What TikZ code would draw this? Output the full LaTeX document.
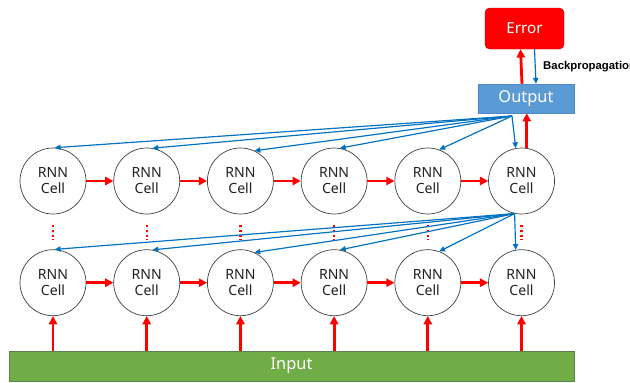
\documentclass[tikz,border=0pt]{standalone}
\usepackage{fontspec}
\setmainfont{Noto Sans}
\newfontfamily\bpfont{Liberation Sans}
\usetikzlibrary{arrows.meta, positioning}
\definecolor{fwred}{HTML}{FF0000}
\definecolor{errborder}{HTML}{C00000}
\definecolor{bwblue}{HTML}{0070C0}
\definecolor{outblue}{HTML}{5B9BD5}
\definecolor{outborder}{HTML}{4F88C6}
\definecolor{ingreen}{HTML}{70AD47}
\definecolor{inborder}{HTML}{5B7F4C}
\definecolor{cellgray}{HTML}{404040}
\definecolor{textgray}{HTML}{222222}

\begin{document}
\begin{tikzpicture}[x=0.03cm, y=-0.03cm, font=\fontsize{12}{13.6}\selectfont,
  node distance=1.05cm and 0.81cm,
  cell/.style={draw=cellgray, circle, line width=0.6pt, minimum size=1.98cm, inner sep=0pt, align=center, text=textgray},
  errbox/.style={draw=errborder, fill=fwred, rounded corners=4pt, text=white, minimum width=2.37cm, minimum height=1.23cm, font=\fontsize{13}{15}\selectfont},
  outbox/.style={draw=outborder, fill=outblue, text=white, minimum width=2.88cm, minimum height=0.87cm, font=\fontsize{14}{16}\selectfont},
  inbox/.style={draw=inborder, fill=ingreen, text=white, minimum width=16.95cm, minimum height=0.9cm, font=\fontsize{14}{16}\selectfont},
  fw/.style={draw=fwred, line width=2.4pt, -{Triangle[length=7pt,width=7pt]}},
  bw/.style={draw=bwblue, line width=1pt, -{Triangle[length=5pt,width=4.5pt]}},
  gap/.style={draw=fwred, line width=2pt, dash pattern=on 1.6pt off 2.4pt, shorten <=0.33cm, shorten >=0.27cm}]
\clip (0,0) rectangle (630,382);
\node[errbox] (err) at (524.5,28.5) {Error};
\node[outbox] (out) at (526,98.5) {Output};
\node[font=\bpfont\fontsize{9.7}{11.5}\selectfont\bfseries, anchor=west, inner sep=0pt] (bp) at (543,67) {Backpropagation};
\node[cell] (t1) at (53,181) {RNN\\Cell};
\node[cell, right=of t1] (t2) {RNN\\Cell};
\node[cell, right=of t2] (t3) {RNN\\Cell};
\node[cell, right=of t3] (t4) {RNN\\Cell};
\node[cell, right=of t4] (t5) {RNN\\Cell};
\node[cell, right=of t5] (t6) {RNN\\Cell};
\node[cell, below=of t1] (b1) {RNN\\Cell};
\node[cell, right=of b1] (b2) {RNN\\Cell};
\node[cell, right=of b2] (b3) {RNN\\Cell};
\node[cell, right=of b3] (b4) {RNN\\Cell};
\node[cell, right=of b4] (b5) {RNN\\Cell};
\node[cell, right=of b5] (b6) {RNN\\Cell};
\node[inbox] (in) at (291.5,366) {Input};
\coordinate (f1) at (512,116);
\draw[fw] ([xshift=-0.12cm]out.north) -- ([xshift=-0.12cm]err.south);
\draw[bw] ([xshift=0.3cm]err.south) -- ([xshift=0.3cm]out.north);
\draw[fw] (t6.81) -- (t6.81 |- out.south);
\draw[fw] (t1) -- (t2);
\draw[fw] (t2) -- (t3);
\draw[fw] (t3) -- (t4);
\draw[fw] (t4) -- (t5);
\draw[fw] (t5) -- (t6);
\draw[fw] (b1) -- (b2);
\draw[fw] (b2) -- (b3);
\draw[fw] (b3) -- (b4);
\draw[fw] (b4) -- (b5);
\draw[fw] (b5) -- (b6);
\draw[fw] (in.north -| b1) -- (b1);
\draw[fw] (in.north -| b2) -- (b2);
\draw[fw] (in.north -| b3) -- (b3);
\draw[fw] (in.north -| b4) -- (b4);
\draw[fw] (in.north -| b5) -- (b5);
\draw[fw] (in.north -| b6) -- (b6);
\draw[gap] (t1) -- (b1);
\draw[gap] (t2) -- (b2);
\draw[gap] (t3) -- (b3);
\draw[gap] (t4) -- (b4);
\draw[gap] (t5) -- (b5);
\draw[gap] (t6) -- (b6);
\draw[bw] (f1) -- (t1.87);
\draw[bw] (f1) -- (t2.80);
\draw[bw] (f1) -- (t3.65);
\draw[bw] (f1) -- (t4.80);
\draw[bw] (f1) -- (t5.70);
\draw[bw] (f1) -- (t6.100);
\draw[bw] (t6.258) -- (b1.87);
\draw[bw] (t6.258) -- (b2.80);
\draw[bw] (t6.258) -- (b3.65);
\draw[bw] (t6.258) -- (b4.80);
\draw[bw] (t6.258) -- (b5.70);
\draw[bw] (t6.258) -- (b6.100);
\end{tikzpicture}
\end{document}
